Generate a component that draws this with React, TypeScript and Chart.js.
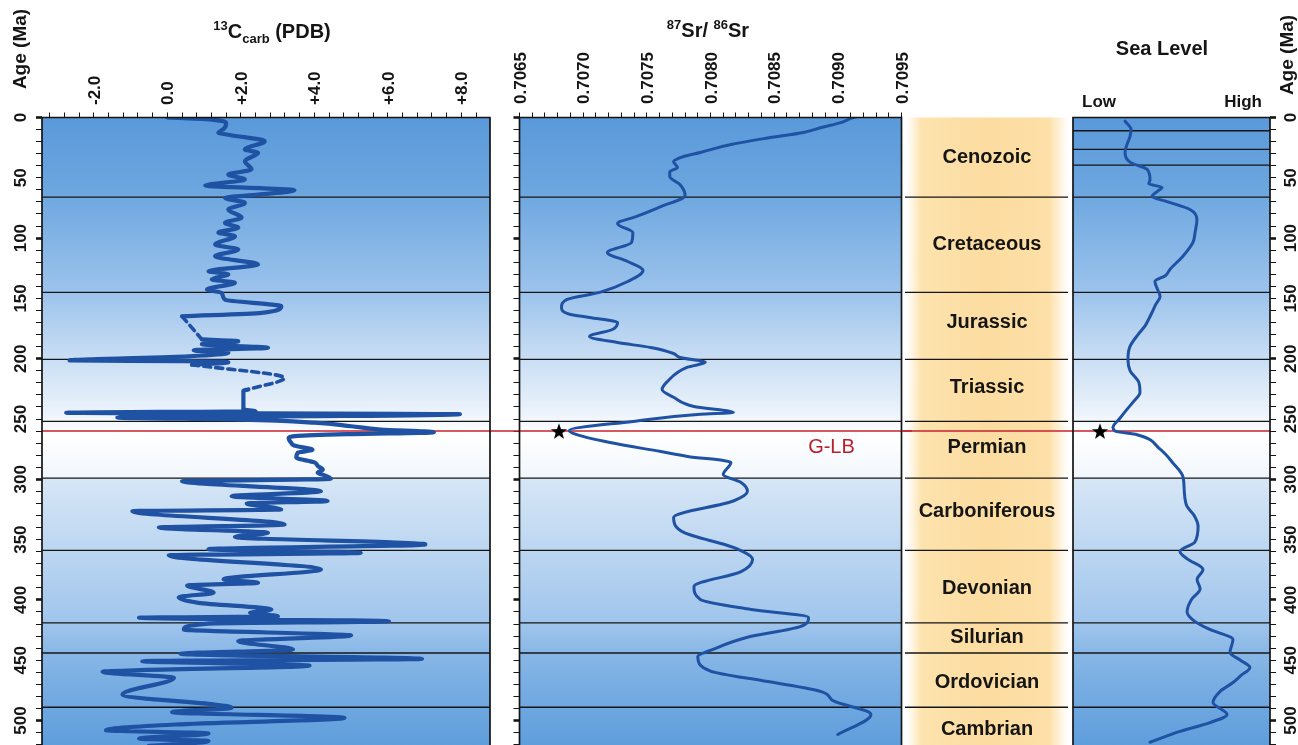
import React, { useEffect, useRef } from 'react';
import { Chart, registerables } from 'chart.js';

Chart.register(...registerables);

const FONT = '"Liberation Sans", Arial, Helvetica, sans-serif';
const H = 745;
const AGE_MAX = 520.3;
const CURVE = '#1f52a3';
const INK = '#151515';
const RED = '#c8202c';

type Pair = [number, number]; // [age Ma, value]

// ---- boundaries / periods ----
const boundaryAges = [66, 145, 200.5, 252, 299, 359, 419, 444, 489];
const seaExtraAges = [11, 26.5, 39.5];
const GLB_AGE = 260;
const periodNames = ['Cenozoic', 'Cretaceous', 'Jurassic', 'Triassic', 'Permian', 'Carboniferous', 'Devonian', 'Silurian', 'Ordovician', 'Cambrian'];
const periodLabelAges = [33, 105, 170, 224, 274, 327, 390.5, 431, 468.5, 507.5];

// ---- tick labels ----
const ageTickLabels = [0, 50, 100, 150, 200, 250, 300, 350, 400, 450, 500];
const c13TickValues = [-2, 0, 2, 4, 6, 8];
const c13TickLabels = ['-2.0', '0.0', '+2.0', '+4.0', '+6.0', '+8.0'];
const srTickValues = [0.7065, 0.707, 0.7075, 0.708, 0.7085, 0.709, 0.7095];
const srTickLabels = ['0.7065', '0.7070', '0.7075', '0.7080', '0.7085', '0.7090', '0.7095'];

// ---- background gradient (age -> colour) ----
const bgAges = [0, 60, 145, 200, 245, 262, 299, 299.6, 359, 419, 444, 489, 520.3];
const bgColors = ['#5a99da', '#6ca6df', '#9cc3ec', '#c9def4', '#ecf3fb', '#ffffff', '#f2f7fc', '#d6e6f6', '#bcd6f1', '#a0c5ec', '#88b7e6', '#6ea7e0', '#5f9edc'];

// ---- δ13C carb (age, permil) ----
const c13SolidA: Pair[] = [
  [0, 0.0], [1.7, 1.2], [5, 1.6], [9, 1.55], [12.7, 1.39], [14.5, 1.7], [19.6, 2.65], [26.5, 2.11], [29.3, 2.47],
  [36.2, 2.11], [43, 2.29], [47.3, 1.66], [51.4, 2.11], [56.4, 1.03], [60.3, 3.46], [64, 2.47], [66.6, 1.57],
  [70.8, 2.11], [76.3, 1.66], [83, 2.02], [87.4, 1.57], [91.3, 1.93], [95.5, 1.39], [98.4, 1.84], [105.3, 1.3],
  [109.5, 1.93], [115, 1.3], [121.9, 2.47], [127.4, 1.12], [130, 1.66], [134.3, 1.21], [137, 1.84], [142.6, 1.08],
  [145.4, 1.48], [151, 1.57], [156.5, 3.1], [162, 2.56], [164.8, 0.4],
];
const c13DashA: Pair[] = [[164.8, 0.4], [184, 0.94]];
const c13SolidB: Pair[] = [
  [184, 0.94], [185.5, 1.93], [188, 0.94], [191, 2.74], [193, 0.72], [195, 1.66], [198, 0.58], [201.5, -2.66],
  [202, 0.49], [203, 1.66], [205, 0.67],
];
const c13DashB: Pair[] = [[205, 0.67], [216, 3.19], [225.5, 2.2]];
const c13SolidC: Pair[] = [
  [225.5, 2.2], [226.5, 2.07], [242, 2.07], [243.5, 2.4], [244.8, -2.75], [246, 7.96], [247.5, 4.8], [248.8, -1.36],
  [250.5, 2.0], [253, 4.0], [256, 5.0], [258.7, 5.8], [261, 7.25], [262.5, 5.0], [264, 3.55], [266, 3.3], [269.7, 3.37],
  [272, 3.45], [275.5, 3.95], [278, 3.55], [282, 3.51], [286, 4.0], [289, 4.1], [292, 4.23], [294.6, 4.09], [297, 4.3],
  [299.6, 4.45], [301.6, 0.4], [310, 4.18], [314, 1.75], [318, 4.36], [320, 2.16], [325, 3.1], [326.4, -0.95],
  [337.5, 3.19], [340, -0.23], [344.4, 2.74], [347.7, 1.84], [354, 7.02], [358, 1.12], [361, 5.26], [363, 0.04],
  [374.8, 4.18], [383, 1.53], [385.8, 2.47], [388, 0.54], [394, 1.26], [397.8, 0.31], [402.4, 0.85], [408, 2.83],
  [410.7, 2.25], [413.5, 3.01], [414.8, -0.77], [417.7, 6.03], [419.6, 1.12], [424.5, 0.45], [429.5, 5.0],
  [434.2, 1.93], [441, 3.42], [444.7, 0.36], [448.9, 6.93], [450.8, -0.68], [454.4, 3.87], [459.6, -1.76],
  [464.6, 0.18], [478.4, -1.22], [489.5, 1.75], [493, 0.13], [497.8, 4.82], [503.3, 0.22], [508, -1.67],
  [510.8, 1.12], [515, -0.77], [517, 1.12], [521, -0.5],
];

// ---- 87Sr/86Sr (age, ratio) ----
const srCurve: Pair[] = [
  [-1, 0.70916], [0, 0.70912], [4, 0.70903], [8.3, 0.70887], [12.4, 0.70873], [17, 0.70845], [22.4, 0.70816], [29, 0.70792],
  [32.3, 0.70779], [36.5, 0.70771], [41.5, 0.70774], [45, 0.70768], [49, 0.70768], [55.6, 0.70776], [64.7, 0.7078],
  [73.8, 0.70761], [82, 0.70742], [88, 0.70727], [95.4, 0.70739], [103.6, 0.70738], [112, 0.70719], [119.4, 0.70735],
  [126.9, 0.70747], [136, 0.70735], [145, 0.70713], [151, 0.70687], [157.5, 0.70683], [163.3, 0.7069],
  [165.8, 0.70705], [170, 0.70727], [175.8, 0.70723], [181.6, 0.70705], [186.6, 0.70727], [190.7, 0.70753],
  [195.7, 0.70771], [199, 0.70776], [203, 0.70796], [207, 0.70782], [219, 0.70766], [225.5, 0.70762],
  [232, 0.70771], [239.6, 0.70787], [244.6, 0.70818], [246, 0.70792], [252, 0.70739], [259.5, 0.70689],
  [263, 0.70695], [269.5, 0.70721], [277, 0.70761], [281, 0.70782], [286, 0.70816], [296, 0.7081], [302.7, 0.70824],
  [310, 0.70829], [318, 0.70818], [331.7, 0.70771], [344, 0.70779], [356.5, 0.70818], [366.5, 0.70833],
  [376.5, 0.70824], [389, 0.70787], [399.7, 0.70792], [408, 0.70832], [414.6, 0.70877], [422, 0.70871],
  [431, 0.70829], [441, 0.70802], [447, 0.7079], [459, 0.708], [467.7, 0.70845], [476, 0.70887], [484, 0.70897],
  [495, 0.70926], [511.6, 0.709],
];
const srStar: Pair[] = [[260, 0.70681]];

// ---- Sea level (age, relative 0 = low .. 100 = high) ----
const seaCurve: Pair[] = [
  [3, 26.4], [10, 29.5], [15.8, 28.9], [22, 27.5], [29, 26.4], [37, 28.9], [43, 37.6], [51.4, 39.1], [55, 38.5],
  [58, 45.2], [61, 43], [65.5, 40.1], [69.7, 47.7], [76.3, 59.4], [84.6, 62.9], [95, 62], [103.6, 60.9], [115, 55.8],
  [126, 49.2], [131, 47], [136, 41.6], [141, 42.5], [148.4, 44.2], [155, 42], [161.7, 40.1], [167, 38.5], [173, 36.5],
  [180, 33], [190, 28.9], [200.7, 27.9], [210, 29], [220, 33.5], [228, 34], [235, 31], [242, 27.4], [250, 23.5],
  [257, 20.3], [260, 21.3], [263, 32.5], [275, 44.2], [287, 51], [297.7, 55.8], [310, 56.5], [322.5, 57.9],
  [330, 61.5], [339, 63.5], [352, 61.9], [359.9, 54.3], [366, 58], [374.8, 66], [383, 63], [391, 64.5], [400, 60],
  [410, 57.9], [418, 62], [424.5, 69.5], [432.8, 81.2], [443.6, 79.7], [450, 85], [456, 89.8], [463, 85],
  [468.5, 81.2], [476, 74.6], [485, 71.1], [495, 78.2], [501.7, 69.5], [509, 54.3], [518, 39.1],
];
const seaStar: Pair[] = [[260, 13.7]];

// ---------------------------------------------------------------
const toPts = (pairs: Pair[]) => pairs.map(([age, v]) => ({ x: v, y: age }));

function makeStar(): HTMLCanvasElement {
  const c = document.createElement('canvas');
  c.width = 18;
  c.height = 18;
  const g = c.getContext('2d')!;
  g.beginPath();
  for (let i = 0; i < 10; i++) {
    const r = i % 2 === 0 ? 8.5 : 3.5;
    const a = -Math.PI / 2 + (i * Math.PI) / 5;
    const px = 9 + r * Math.cos(a);
    const py = 9.8 + r * Math.sin(a);
    if (i === 0) g.moveTo(px, py);
    else g.lineTo(px, py);
  }
  g.closePath();
  g.fillStyle = '#000';
  g.fill();
  return c;
}

function ageAxis(position: 'left' | 'right', width: number, show: boolean): any {
  return {
    type: 'linear',
    position,
    reverse: true,
    min: 0,
    max: AGE_MAX,
    display: show,
    afterBuildTicks: (s: any) => {
      const t: any[] = [];
      for (let a = 0; a <= AGE_MAX; a += 10) t.push({ value: a });
      s.ticks = t;
    },
    afterFit: (s: any) => {
      s.width = width;
    },
    ticks: { display: false },
    grid: {
      drawOnChartArea: false,
      drawTicks: true,
      tickLength: 6,
      tickColor: INK,
      tickWidth: (c: any) => (c.tick && Math.round(c.tick.value) % 100 === 0 ? 2.6 : 1),
    },
    border: { display: false },
  };
}

function valueAxis(min: number, max: number, tickVals: number[], show: boolean): any {
  return {
    type: 'linear',
    position: 'top',
    min,
    max,
    display: show,
    afterBuildTicks: (s: any) => {
      s.ticks = tickVals.map((v) => ({ value: v }));
    },
    afterFit: (s: any) => {
      s.height = 117.5;
    },
    ticks: { display: false },
    grid: { drawOnChartArea: false, drawTicks: true, tickLength: 5, tickColor: INK, tickWidth: 1 },
    border: { display: false },
  };
}

const c13Minor: number[] = [];
for (let i = -8; i <= 21; i++) c13Minor.push(Math.round(i * 4) / 10);
const srMinor: number[] = [];
for (let i = 0; i <= 30; i++) srMinor.push(Math.round((0.7065 + i * 0.0001) * 100000) / 100000);

const bgPlugin = {
  id: 'bg',
  beforeDraw(chart: any) {
    const { ctx, chartArea: a, scales } = chart;
    const y = scales.y;
    const g = ctx.createLinearGradient(0, y.getPixelForValue(0), 0, y.getPixelForValue(AGE_MAX));
    bgAges.forEach((age, i) => g.addColorStop(Math.min(1, age / AGE_MAX), bgColors[i]));
    ctx.save();
    ctx.fillStyle = g;
    ctx.fillRect(a.left, a.top, a.right - a.left, a.bottom - a.top);
    ctx.restore();
  },
};

function mkLines(ages: number[], span: (c: any) => [number, number], red: (c: any) => [number, number]) {
  return {
    id: 'lines',
    beforeDatasetsDraw(chart: any) {
      const { ctx, scales } = chart;
      const y = scales.y;
      ctx.save();
      ctx.strokeStyle = INK;
      ctx.lineWidth = 1.3;
      const [a, b] = span(chart);
      ages.forEach((age) => {
        const py = y.getPixelForValue(age);
        ctx.beginPath();
        ctx.moveTo(a, py);
        ctx.lineTo(b, py);
        ctx.stroke();
      });
      const [r0, r1] = red(chart);
      const ry = y.getPixelForValue(GLB_AGE);
      ctx.strokeStyle = RED;
      ctx.lineWidth = 1.6;
      ctx.beginPath();
      ctx.moveTo(r0, ry);
      ctx.lineTo(r1, ry);
      ctx.stroke();
      ctx.restore();
    },
  };
}

const borderPlugin = {
  id: 'frame',
  afterDatasetsDraw(chart: any) {
    const { ctx, chartArea: a } = chart;
    ctx.save();
    ctx.strokeStyle = INK;
    ctx.lineWidth = 1.7;
    ctx.beginPath();
    ctx.moveTo(a.left, H + 5);
    ctx.lineTo(a.left, a.top);
    ctx.lineTo(a.right, a.top);
    ctx.lineTo(a.right, H + 5);
    ctx.stroke();
    ctx.restore();
  },
};

type Seg = { t: string; size: number; dy?: number };
function drawRich(ctx: CanvasRenderingContext2D, segs: Seg[], cx: number, baseline: number) {
  let total = 0;
  const widths = segs.map((s) => {
    ctx.font = `bold ${s.size}px ${FONT}`;
    const w = ctx.measureText(s.t).width;
    total += w;
    return w;
  });
  let x = cx - total / 2;
  ctx.fillStyle = INK;
  ctx.textAlign = 'left';
  ctx.textBaseline = 'alphabetic';
  segs.forEach((s, i) => {
    ctx.font = `bold ${s.size}px ${FONT}`;
    ctx.fillText(s.t, x, baseline + (s.dy || 0));
    x += widths[i];
  });
}

function drawRot(ctx: CanvasRenderingContext2D, text: string, x: number, y: number, align: CanvasTextAlign, font: string, color = INK) {
  ctx.save();
  ctx.translate(x, y);
  ctx.rotate(-Math.PI / 2);
  ctx.font = font;
  ctx.fillStyle = color;
  ctx.textAlign = align;
  ctx.textBaseline = 'middle';
  ctx.fillText(text, 0, 0);
  ctx.restore();
}

const NUM_FONT = `bold 17px ${FONT}`;

const curveDs = (pairs: Pair[], width: number, dash?: number[]) => ({
  data: toPts(pairs),
  borderColor: CURVE,
  borderWidth: width,
  borderDash: dash || [],
  pointRadius: 0,
  cubicInterpolationMode: 'monotone',
  fill: false,
  borderCapStyle: 'round',
  borderJoinStyle: 'round',
});

const starDs = (pairs: Pair[], star: HTMLCanvasElement) => ({
  data: toPts(pairs),
  showLine: false,
  pointStyle: star,
  pointRadius: 9,
  borderWidth: 0,
});

const baseOptions = (padding: any, x: any, y: any): any => ({
  animation: false,
  responsive: false,
  maintainAspectRatio: false,
  events: [],
  indexAxis: 'y',
  layout: { padding, autoPadding: false },
  plugins: { legend: { display: false }, tooltip: { enabled: false }, title: { display: false } },
  scales: { x, y },
});

// ---------------- configs ----------------
function c13Config(): any {
  return {
    type: 'line',
    data: {
      datasets: [
        curveDs(c13SolidA, 4.2),
        curveDs(c13DashA, 3.6, [7, 5]),
        curveDs(c13SolidB, 4.2),
        curveDs(c13DashB, 3.6, [7, 5]),
        curveDs(c13SolidC, 4.2),
      ],
    },
    options: baseOptions({ left: 0, right: 10, top: 0, bottom: 0 }, valueAxis(-3.41, 8.78, c13Minor, true), ageAxis('left', 42, true)),
    plugins: [
      bgPlugin,
      mkLines(boundaryAges, (c) => [c.chartArea.left, c.chartArea.right], (c) => [c.chartArea.left, c.width]),
      borderPlugin,
      {
        id: 'text1',
        afterDraw(chart: any) {
          const { ctx, scales } = chart;
          drawRot(ctx, 'Age (Ma)', 21, 49, 'center', `bold 19px ${FONT}`);
          ageTickLabels.forEach((a) => drawRot(ctx, String(a), 21, scales.y.getPixelForValue(a), 'center', NUM_FONT));
          c13TickValues.forEach((v, i) => drawRot(ctx, c13TickLabels[i], scales.x.getPixelForValue(v) + 1, 105, 'left', NUM_FONT));
          drawRich(ctx, [
            { t: '13', size: 13, dy: -8 },
            { t: 'C', size: 20 },
            { t: 'carb', size: 13, dy: 5 },
            { t: ' (PDB)', size: 20 },
          ], 272, 38);
        },
      },
    ],
  };
}

function srConfig(star: HTMLCanvasElement): any {
  return {
    type: 'line',
    data: { datasets: [curveDs(srCurve, 3), starDs(srStar, star)] },
    options: baseOptions({ left: 0, right: 10.5, top: 0, bottom: 0 }, valueAxis(0.7065, 0.7095, srMinor, true), ageAxis('left', 19.5, true)),
    plugins: [
      bgPlugin,
      mkLines(boundaryAges, (c) => [c.chartArea.left, c.chartArea.right], (c) => [0, c.width]),
      borderPlugin,
      {
        id: 'text2',
        afterDraw(chart: any) {
          const { ctx, scales } = chart;
          srTickValues.forEach((v, i) => drawRot(ctx, srTickLabels[i], scales.x.getPixelForValue(v) + 1.5, 104, 'left', NUM_FONT));
          drawRich(ctx, [
            { t: '87', size: 13, dy: -8 },
            { t: 'Sr/ ', size: 20 },
            { t: '86', size: 13, dy: -8 },
            { t: 'Sr', size: 20 },
          ], 208, 37);
          ctx.save();
          ctx.font = `20px ${FONT}`;
          ctx.fillStyle = '#b81f2b';
          ctx.textAlign = 'center';
          ctx.textBaseline = 'middle';
          ctx.fillText('G-LB', scales.x.getPixelForValue(0.70895), scales.y.getPixelForValue(273.5));
          ctx.restore();
        },
      },
    ],
  };
}

function periodConfig(): any {
  return {
    type: 'line',
    data: { datasets: [] },
    options: baseOptions({ left: 0, right: 0, top: 117.5, bottom: 0 }, { type: 'linear', min: 0, max: 1, display: false }, { ...ageAxis('left', 0, false) }),
    plugins: [
      {
        id: 'orange',
        beforeDraw(chart: any) {
          const { ctx, chartArea: a } = chart;
          const x0 = 4;
          const x1 = 165;
          const g = ctx.createLinearGradient(x0, 0, x1, 0);
          g.addColorStop(0, '#ffffff');
          g.addColorStop(0.09, '#fde3ae');
          g.addColorStop(0.5, '#fcdca0');
          g.addColorStop(0.88, '#fde0a8');
          g.addColorStop(1, '#ffffff');
          ctx.save();
          ctx.fillStyle = g;
          ctx.fillRect(x0, a.top, x1 - x0, a.bottom - a.top);
          ctx.restore();
        },
      },
      mkLines(boundaryAges, () => [2, 165], (c) => [0, c.width]),
      {
        id: 'ptext',
        afterDraw(chart: any) {
          const { ctx, scales } = chart;
          ctx.save();
          ctx.font = `bold 20px ${FONT}`;
          ctx.fillStyle = INK;
          ctx.textAlign = 'center';
          ctx.textBaseline = 'middle';
          periodNames.forEach((n, i) => ctx.fillText(n, 84, scales.y.getPixelForValue(periodLabelAges[i])));
          ctx.restore();
        },
      },
    ],
  };
}

function seaConfig(star: HTMLCanvasElement): any {
  return {
    type: 'line',
    data: { datasets: [curveDs(seaCurve, 3), starDs(seaStar, star)] },
    options: baseOptions({ left: 1, right: 0, top: 117.5, bottom: 0 }, { type: 'linear', min: 0, max: 100, display: false }, ageAxis('right', 28, true)),
    plugins: [
      bgPlugin,
      mkLines([...seaExtraAges, ...boundaryAges], (c) => [c.chartArea.left, c.chartArea.right], (c) => [0, c.chartArea.right]),
      borderPlugin,
      {
        id: 'text4',
        afterDraw(chart: any) {
          const { ctx, scales } = chart;
          drawRich(ctx, [{ t: 'Sea Level', size: 20 }], 90, 55);
          ctx.save();
          ctx.font = `bold 17px ${FONT}`;
          ctx.fillStyle = INK;
          ctx.textBaseline = 'alphabetic';
          ctx.textAlign = 'left';
          ctx.fillText('Low', 10, 107);
          ctx.textAlign = 'right';
          ctx.fillText('High', 190, 107);
          ctx.restore();
          drawRot(ctx, 'Age (Ma)', 216, 55, 'center', `bold 19px ${FONT}`);
          ageTickLabels.forEach((a) => drawRot(ctx, String(a), 219, scales.y.getPixelForValue(a), 'center', NUM_FONT));
        },
      },
    ],
  };
}

function Panel({ left, width, build }: { left: number; width: number; build: () => any }) {
  const ref = useRef<HTMLCanvasElement>(null);
  useEffect(() => {
    const chart = new Chart(ref.current as HTMLCanvasElement, build());
    return () => chart.destroy();
  }, []);
  return (
    <canvas
      ref={ref}
      width={width}
      height={H}
      style={{ position: 'absolute', left, top: 0, width, height: H, display: 'block' }}
    />
  );
}

export default function App() {
  const starRef = useRef<HTMLCanvasElement | null>(null);
  if (!starRef.current && typeof document !== 'undefined') starRef.current = makeStar();
  const star = starRef.current as HTMLCanvasElement;
  return (
    <div style={{ position: 'fixed', left: 0, top: 0, width: 1298, height: H, overflow: 'hidden', background: '#ffffff' }}>
      <Panel left={0} width={500} build={c13Config} />
      <Panel left={903} width={169} build={periodConfig} />
      <Panel left={500} width={412} build={() => srConfig(star)} />
      <Panel left={1072} width={226} build={() => seaConfig(star)} />
    </div>
  );
}
